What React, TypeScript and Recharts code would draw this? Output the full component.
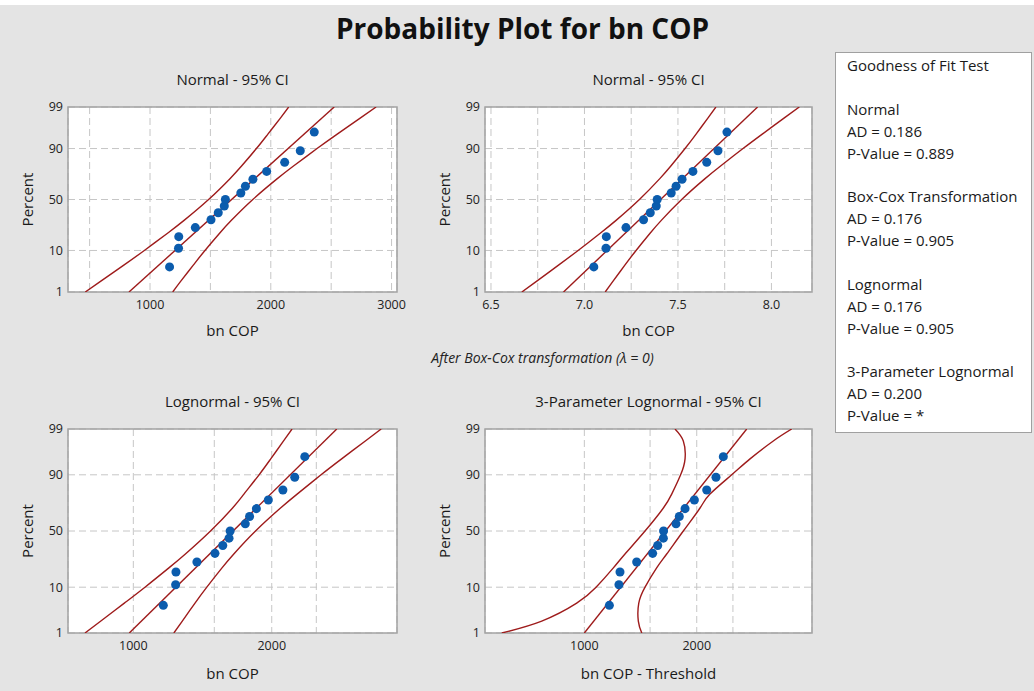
import React from 'react';
import { ComposedChart, Line, Scatter, XAxis, YAxis, CartesianGrid, ReferenceArea, Label } from 'recharts';

const FONT = '"Open Sans", "Noto Sans", sans-serif';
const RED = '#9e1b1b';
const BLUE = '#0b5cad';

// plotting positions (percent) of the 15 observations
const pctRanks = [4.5, 11.0, 17.5, 24.0, 30.5, 37.0, 43.5, 50.0, 56.5, 63.0, 69.5, 76.0, 82.5, 89.0, 95.5];
const bnCop = [1162, 1236, 1238, 1375, 1505, 1565, 1615, 1624, 1752, 1790, 1852, 1966, 2115, 2244, 2360];
const lnCop = [7.05, 7.115, 7.117, 7.222, 7.316, 7.352, 7.384, 7.389, 7.464, 7.49, 7.522, 7.58, 7.654, 7.714, 7.762];
const copMinusThreshold = [1167, 1238, 1246, 1381, 1524, 1572, 1628, 1630, 1760, 1796, 1861, 1971, 2127, 2252, 2356];

// percent levels where the CI bands were read
const ciPct = [1, 2, 5, 10, 20, 30, 50, 70, 80, 90, 95, 98, 99];
const fitPct = [1, 99];

const normLower = [464, 593, 786, 953, 1148, 1282, 1485, 1662, 1758, 1881, 1976, 2081, 2148];
const normUpper = [1188, 1255, 1360, 1455, 1578, 1674, 1851, 2054, 2188, 2383, 2550, 2743, 2872];
const normFit = [826, 2525];

const lnLower = [6.665, 6.745, 6.863, 6.966, 7.086, 7.169, 7.294, 7.403, 7.462, 7.538, 7.597, 7.661, 7.703];
const lnUpper = [7.111, 7.153, 7.217, 7.276, 7.352, 7.411, 7.52, 7.645, 7.728, 7.848, 7.951, 8.069, 8.149];
const lnFit = [6.888, 7.926];

const logLower = [785, 850, 956, 1060, 1195, 1298, 1472, 1644, 1740, 1877, 1990, 2122, 2214];
const logUpper = [1225, 1278, 1362, 1445, 1559, 1654, 1844, 2090, 2271, 2560, 2838, 3196, 3460];
const logFit = [980, 2770];

const tpLower = [601, 769, 954, 1075, 1196, 1285, 1454, 1628, 1714, 1811, 1861, 1841, 1749];
const tpUpper = [1425, 1395, 1399, 1454, 1562, 1662, 1841, 2041, 2170, 2481, 2778, 3207, 3592];
const tpFit = [1000, 2722];

const yTickPct = [1, 10, 50, 90, 99];
const yTickLabels = ['1', '10', '50', '90', '99'];

const gofLines = [
  'Goodness of Fit Test', '',
  'Normal', 'AD = 0.186', 'P-Value = 0.889', '',
  'Box-Cox Transformation', 'AD = 0.176', 'P-Value = 0.905', '',
  'Lognormal', 'AD = 0.176', 'P-Value = 0.905', '',
  '3-Parameter Lognormal', 'AD = 0.200', 'P-Value = *',
];

// inverse standard normal CDF (Acklam), used for the probability axis
function probit(pct: number): number {
  const p = pct / 100;
  const a = [-39.69683028665376, 220.9460984245205, -275.9285104469687, 138.357751867269, -30.66479806614716, 2.506628277459239];
  const b = [-54.47609879822406, 161.5858368580409, -155.6989798598866, 66.80131188771972, -13.28068155288572];
  const c = [-0.007784894002430293, -0.3223964580411365, -2.400758277161838, -2.549732539343734, 4.374664141464968, 2.938163982698783];
  const d = [0.007784695709041462, 0.3224671290700398, 2.445134137142996, 3.754408661907416];
  const tail = (q: number) =>
    (((((c[0] * q + c[1]) * q + c[2]) * q + c[3]) * q + c[4]) * q + c[5]) /
    ((((d[0] * q + d[1]) * q + d[2]) * q + d[3]) * q + 1);
  if (p < 0.02425) return tail(Math.sqrt(-2 * Math.log(p)));
  if (p > 1 - 0.02425) return -tail(Math.sqrt(-2 * Math.log(1 - p)));
  const q = p - 0.5;
  const r = q * q;
  return ((((((a[0] * r + a[1]) * r + a[2]) * r + a[3]) * r + a[4]) * r + a[5]) * q) /
    (((((b[0] * r + b[1]) * r + b[2]) * r + b[3]) * r + b[4]) * r + 1);
}

const yTicks = yTickPct.map(probit);
const Z_MIN = yTicks[0];
const Z_MAX = yTicks[yTicks.length - 1];

interface PanelProps {
  title: string;
  xLabel: string;
  plotLeft: number;
  plotTop: number;
  plotW: number;
  plotH: number;
  xDomain: [number, number];
  xTicks: number[];
  xLabelTicks: number[];
  decimals: number;
  log?: boolean;
  xs: number[];
  lower: number[];
  upper: number[];
  fit: number[];
  labelOffset: number;
}

const Panel: React.FC<PanelProps> = (p) => {
  const pts = p.xs.map((x, i) => ({ x, z: probit(pctRanks[i]) }));
  const lo = p.lower.map((x, i) => ({ x, z: probit(ciPct[i]) }));
  const up = p.upper.map((x, i) => ({ x, z: probit(ciPct[i]) }));
  const ft = p.fit.map((x, i) => ({ x, z: probit(fitPct[i]) }));
  const w = 68 + p.plotW + 10;
  const h = 10 + p.plotH + 50;
  const tickStyle = { fontSize: 12.5, fill: '#222', fontFamily: FONT };
  return (
    <>
      <div
        style={{
          position: 'absolute', left: p.plotLeft, top: p.plotTop - 38, width: p.plotW,
          textAlign: 'center', fontSize: 15, lineHeight: '20px', color: '#1a1a1a', fontFamily: FONT,
        }}
      >
        {p.title}
      </div>
      <div style={{ position: 'absolute', left: p.plotLeft - 68, top: p.plotTop - 10 }}>
        <ComposedChart width={w} height={h} margin={{ top: 10, right: 10, left: 0, bottom: 0 }}>
          <CartesianGrid fill="#fff" stroke="#c6c6c6" strokeDasharray="7 4" />
          <XAxis
            type="number"
            dataKey="x"
            scale={p.log ? 'log' : 'linear'}
            domain={p.xDomain}
            allowDataOverflow
            ticks={p.xTicks}
            interval={0}
            tickFormatter={(v: number) =>
              p.xLabelTicks.some((t) => Math.abs(t - v) < 1e-6) ? v.toFixed(p.decimals) : ''
            }
            axisLine={false}
            tickLine={false}
            tickSize={6}
            tickMargin={2}
            height={50}
            tick={tickStyle}
          >
            <Label
              value={p.xLabel}
              position="insideBottom"
              offset={p.labelOffset}
              style={{ fontSize: 15, fill: '#1a1a1a', fontFamily: FONT }}
            />
          </XAxis>
          <YAxis
            type="number"
            dataKey="z"
            domain={[Z_MIN, Z_MAX]}
            allowDataOverflow
            ticks={yTicks}
            interval={0}
            tickFormatter={(v: number) => {
              const i = yTicks.findIndex((t) => Math.abs(t - v) < 1e-6);
              return i >= 0 ? yTickLabels[i] : '';
            }}
            axisLine={false}
            tickLine={false}
            tickSize={3}
            tickMargin={2}
            width={68}
            tick={tickStyle}
          >
            <Label
              value="Percent"
              angle={-90}
              position="insideLeft"
              offset={28}
              style={{ fontSize: 15, fill: '#1a1a1a', fontFamily: FONT, textAnchor: 'middle' }}
            />
          </YAxis>
          <ReferenceArea
            x1={p.xDomain[0]}
            x2={p.xDomain[1]}
            y1={Z_MIN}
            y2={Z_MAX}
            fill="none"
            stroke="#a3a3a3"
            strokeWidth={1.5}
            ifOverflow="visible"
          />
          <Line data={lo} dataKey="z" name="lower" type="natural" stroke={RED} strokeWidth={1.4} dot={false} isAnimationActive={false} />
          <Line data={up} dataKey="z" name="upper" type="natural" stroke={RED} strokeWidth={1.4} dot={false} isAnimationActive={false} />
          {/* fitted line: two end points joined */}
          <Scatter
            data={ft}
            name="fit"
            line={{ stroke: RED, strokeWidth: 1.4 }}
            shape={() => <g />}
            isAnimationActive={false}
          />
          <Scatter data={pts} name="data" fill={BLUE} isAnimationActive={false} />
        </ComposedChart>
      </div>
    </>
  );
};

export default function App() {
  return (
    <div
      style={{
        position: 'absolute', left: 0, top: 0, width: 1034, height: 691,
        background: '#e4e4e4', fontFamily: FONT, overflow: 'hidden',
      }}
    >
      <div style={{ position: 'absolute', left: 0, top: 0, width: 1034, height: 5, background: '#fff' }} />
      <div
        style={{
          position: 'absolute', left: 0, top: 10, width: 1045, textAlign: 'center',
          fontSize: 28, fontWeight: 700, lineHeight: '36px', color: '#111',
        }}
      >
        Probability Plot for bn COP
      </div>

      <Panel
        title="Normal - 95% CI" xLabel="bn COP"
        plotLeft={68} plotTop={107} plotW={329} plotH={185}
        xDomain={[321, 3045]} xTicks={[500, 1000, 1500, 2000, 2500, 3000]} xLabelTicks={[1000, 2000, 3000]} decimals={0}
        xs={bnCop} lower={normLower} upper={normUpper} fit={normFit} labelOffset={6}
      />
      <Panel
        title="Normal - 95% CI" xLabel="bn COP"
        plotLeft={485} plotTop={107} plotW={327} plotH={185}
        xDomain={[6.468, 8.217]} xTicks={[6.5, 6.75, 7.0, 7.25, 7.5, 7.75, 8.0]} xLabelTicks={[6.5, 7.0, 7.5, 8.0]} decimals={1}
        xs={lnCop} lower={lnLower} upper={lnUpper} fit={lnFit} labelOffset={6}
      />
      <Panel
        title="Lognormal - 95% CI" xLabel="bn COP"
        plotLeft={68} plotTop={429} plotW={329} plotH={204}
        xDomain={[721, 3745]} xTicks={[1000, 1500, 2000, 2500]} xLabelTicks={[1000, 2000]} decimals={0} log
        xs={bnCop} lower={logLower} upper={logUpper} fit={logFit} labelOffset={4}
      />
      <Panel
        title="3-Parameter Lognormal - 95% CI" xLabel="bn COP - Threshold"
        plotLeft={485} plotTop={429} plotW={327} plotH={204}
        xDomain={[542, 4071]} xTicks={[1000, 1500, 2000, 2500]} xLabelTicks={[1000, 2000]} decimals={0} log
        xs={copMinusThreshold} lower={tpLower} upper={tpUpper} fit={tpFit} labelOffset={4}
      />

      <div
        style={{
          position: 'absolute', left: 380, top: 349, width: 325, textAlign: 'center',
          fontSize: 14, fontStyle: 'italic', lineHeight: '18px', color: '#222',
        }}
      >
        After Box-Cox transformation (λ = 0)
      </div>

      <div
        style={{
          position: 'absolute', left: 835, top: 52, width: 197, height: 381, boxSizing: 'border-box',
          background: '#fff', border: '1px solid #a0a0a0', paddingLeft: 11, paddingTop: 2,
          fontSize: 15, lineHeight: '21.9px', color: '#1a1a1a',
        }}
      >
        {gofLines.map((t, i) => (
          <div key={i} style={{ height: 21.9, whiteSpace: 'nowrap' }}>{t}</div>
        ))}
      </div>
    </div>
  );
}
